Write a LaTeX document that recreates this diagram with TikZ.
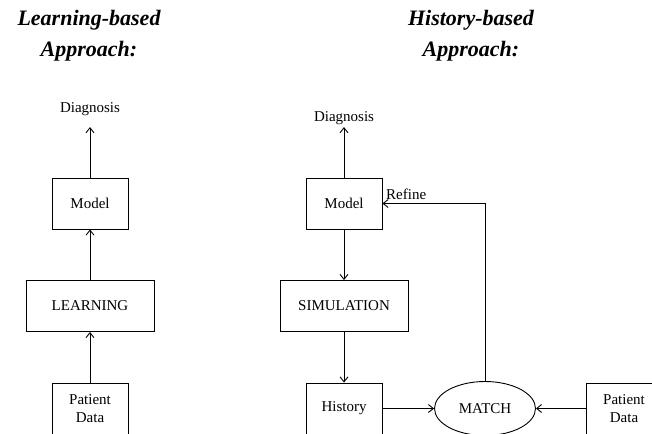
\documentclass[tikz,border=0pt]{standalone}
\usepackage{fontspec}
\setmainfont{Liberation Serif}
\usepackage{tikz}
\usetikzlibrary{arrows, arrows.meta, positioning, shapes.geometric}

\begin{document}
\begin{tikzpicture}[x=1pt, y=-1pt, node distance=102.5pt,
    font=\fontsize{15}{18}\selectfont, line width=0.9pt,
    >={Straight Barb[length=5pt,width=8pt]},
    box/.style={draw, minimum width=76pt, minimum height=51pt, inner sep=0pt, align=center},
    wbox/.style={box, minimum width=128pt},
    outlbl/.style={inner sep=1pt, outer ysep=10pt},
    title/.style={anchor=north, inner sep=0pt, align=center,
        font=\fontsize{22}{31}\selectfont\bfseries\itshape}]

\clip (0,0) rectangle (652,433);

%titles
\node[title] (tlearn) at (89,10) {Learning-based\\Approach:};
\node[title] (thist) at (471,10) {History-based\\Approach:};

%learning-based
\node[box] (lmodel) at (90,203.5) {Model};
\node[wbox, below of=lmodel] (learn) {LEARNING};
\node[box, below of=learn] (ldata) {Patient\\Data};
\node[outlbl] (ldiag) at (90,109.5) {Diagnosis};

\draw (ldata) edge[->] (learn);
\draw (learn) edge[->] (lmodel);
\draw (lmodel) edge[->] (ldiag);

%history-based
\node[box] (rmodel) at (344,203.5) {Model};
\node[wbox, below of=rmodel] (sim) {SIMULATION};
\node[box, below of=sim] (hist) {History};
\node[outlbl, outer ysep=1pt] (rdiag) at (344,118.5) {Diagnosis};
\node[draw, ellipse, minimum width=101pt, minimum height=54pt, inner sep=0pt] (match) at (485,408.5) {MATCH};
\node[box] (rdata) at (624,408.5) {Patient\\Data};

\draw (rmodel) edge[->] (rdiag);
\draw (rmodel) edge[->] (sim);
\draw (sim) edge[->] (hist);
\draw (hist) edge[->] (match);
\draw (rdata) edge[->] (match);
\draw[->] (match.north) |- (rmodel.east) node[pos=1, above right] {Refine};

\end{tikzpicture}
\end{document}
